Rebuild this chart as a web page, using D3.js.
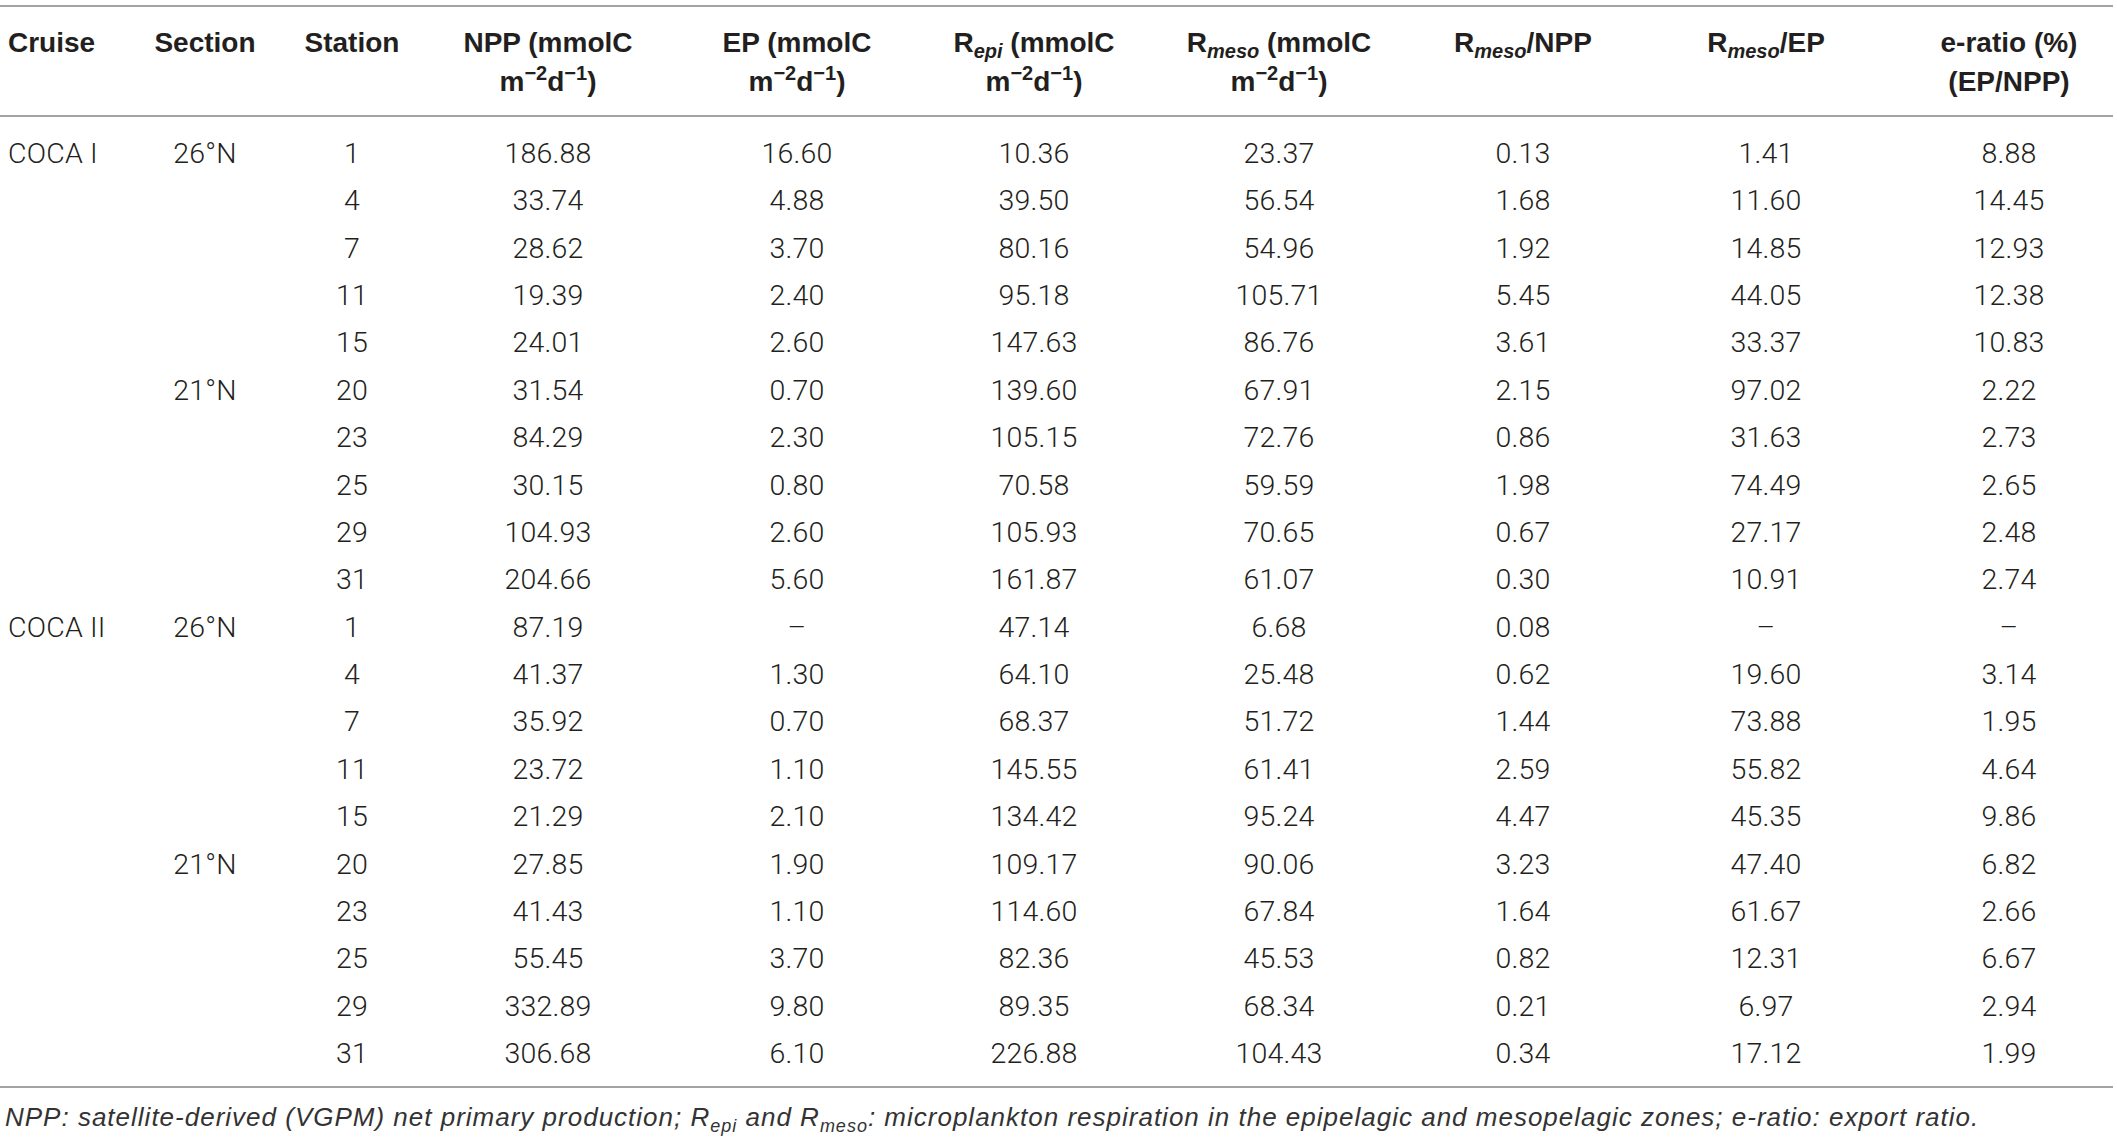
<!DOCTYPE html>
<html>
<head>
<meta charset="utf-8">
<script src="https://cdn.jsdelivr.net/npm/d3@7"></script>
<style>
  body { margin: 0; background: #fff; }
  text { font-family: Roboto, "Liberation Sans", sans-serif; fill: #231f20; }
  .header text { font-family: "Liberation Sans", Arial, sans-serif; }
  .foot { font-family: "Liberation Sans", Arial, sans-serif; }
</style>
</head>
<body>
<div id="table"></div>
<script>
// table values, row by row (null = no value, shown as a dash)
var cruises  = ["COCA I", "", "", "", "", "", "", "", "", "",
                "COCA II", "", "", "", "", "", "", "", "", ""];
var sections = ["26°N", "", "", "", "", "21°N", "", "", "", "",
                "26°N", "", "", "", "", "21°N", "", "", "", ""];
var stations = [1, 4, 7, 11, 15, 20, 23, 25, 29, 31,
                1, 4, 7, 11, 15, 20, 23, 25, 29, 31];
var npp      = [186.88, 33.74, 28.62, 19.39, 24.01, 31.54, 84.29, 30.15, 104.93, 204.66,
                87.19, 41.37, 35.92, 23.72, 21.29, 27.85, 41.43, 55.45, 332.89, 306.68];
var ep       = [16.60, 4.88, 3.70, 2.40, 2.60, 0.70, 2.30, 0.80, 2.60, 5.60,
                null, 1.30, 0.70, 1.10, 2.10, 1.90, 1.10, 3.70, 9.80, 6.10];
var rEpi     = [10.36, 39.50, 80.16, 95.18, 147.63, 139.60, 105.15, 70.58, 105.93, 161.87,
                47.14, 64.10, 68.37, 145.55, 134.42, 109.17, 114.60, 82.36, 89.35, 226.88];
var rMeso    = [23.37, 56.54, 54.96, 105.71, 86.76, 67.91, 72.76, 59.59, 70.65, 61.07,
                6.68, 25.48, 51.72, 61.41, 95.24, 90.06, 67.84, 45.53, 68.34, 104.43];
var rMesoNpp = [0.13, 1.68, 1.92, 5.45, 3.61, 2.15, 0.86, 1.98, 0.67, 0.30,
                0.08, 0.62, 1.44, 2.59, 4.47, 3.23, 1.64, 0.82, 0.21, 0.34];
var rMesoEp  = [1.41, 11.60, 14.85, 44.05, 33.37, 97.02, 31.63, 74.49, 27.17, 10.91,
                null, 19.60, 73.88, 55.82, 45.35, 47.40, 61.67, 12.31, 6.97, 17.12];
var eRatio   = [8.88, 14.45, 12.93, 12.38, 10.83, 2.22, 2.73, 2.65, 2.48, 2.74,
                null, 3.14, 1.95, 4.64, 9.86, 6.82, 2.66, 6.67, 2.94, 1.99];

// header labels: "|" breaks a line, _{..} subscript, ^{..} superscript
var headers = ["Cruise", "Section", "Station",
               "NPP (mmolC|m^{−2}d^{−1})", "EP (mmolC|m^{−2}d^{−1})",
               "R_{epi} (mmolC|m^{−2}d^{−1})", "R_{meso} (mmolC|m^{−2}d^{−1})",
               "R_{meso}/NPP", "R_{meso}/EP", "e-ratio (%)|(EP/NPP)"];
var footnote = "NPP: satellite-derived (VGPM) net primary production; R_{epi} and R_{meso}: microplankton respiration in the epipelagic and mesopelagic zones; e-ratio: export ratio.";

var width = 2117, height = 1140;
var fmt = d3.format(".2f");
function cell(v) { return v == null ? "–" : fmt(v); }

var columns = [
    { values: cruises,  x: 8,    anchor: "start" },
    { values: sections, x: 205 },
    { values: stations, x: 352 },
    { values: npp.map(cell),      x: 548 },
    { values: ep.map(cell),       x: 797 },
    { values: rEpi.map(cell),     x: 1034 },
    { values: rMeso.map(cell),    x: 1279 },
    { values: rMesoNpp.map(cell), x: 1523 },
    { values: rMesoEp.map(cell),  x: 1766 },
    { values: eRatio.map(cell),   x: 2009 }
];

var y = d3.scalePoint()
    .domain(d3.range(stations.length))
    .range([153, 1053]);

var svg = d3.select("#table")
    .append("svg")
    .attr("width", width)
    .attr("height", height);

// rules
svg.selectAll("line.rule")
    .data([6, 116, 1087])
    .enter().append("line")
    .attr("class", "rule")
    .attr("x1", 0)
    .attr("x2", 2113)
    .attr("y1", function(d) { return d; })
    .attr("y2", function(d) { return d; })
    .attr("stroke", "#a3a3a3")
    .attr("stroke-width", 2);

// writes a label with sub/superscripts into a text element;
// the shift of a sub/sup is undone on the tspan that follows it
function richText(sel, str, size, italicSub) {
    var parts = str.split(/(_\{[^}]*\}|\^\{[^}]*\})/).filter(function(s) { return s.length; });
    var small = Math.round(size * 0.7);
    var shift = 0;
    parts.forEach(function(p) {
        var ts = sel.append("tspan");
        var d = 0;
        if (p[0] === "_") {
            d = size * 0.22;
            ts.text(p.slice(2, -1))
                .style("font-size", small + "px")
                .style("font-style", italicSub ? "italic" : null);
        } else if (p[0] === "^") {
            d = -size * 0.38;
            ts.text(p.slice(2, -1))
                .style("font-size", small + "px");
        } else {
            ts.text(p);
        }
        if (d - shift !== 0) ts.attr("dy", d - shift);
        shift = d;
    });
}

// header
var head = svg.append("g").attr("class", "header");
headers.forEach(function(h, i) {
    h.split("|").forEach(function(line, k) {
        var t = head.append("text")
            .attr("x", columns[i].x)
            .attr("y", 52 + k * 39)
            .attr("text-anchor", columns[i].anchor || "middle")
            .style("font-size", "28px")
            .style("font-weight", 700);
        richText(t, line, 28, true);
    });
});

// body (blank cells of the grouped columns are skipped)
var body = svg.append("g").attr("class", "body");
columns.forEach(function(col) {
    body.append("g").selectAll("text")
        .data(col.values)
        .enter().append("text")
        .attr("x", col.x)
        .attr("y", function(d, i) { return y(i) + 10; })
        .attr("text-anchor", col.anchor || "middle")
        .style("font-size", "28.5px")
        .style("font-weight", 300)
        .style("letter-spacing", "0.2px")
        .text(function(d) { return d; })
        .filter(function(d) { return d === ""; })
        .remove();
});

// footnote
var foot = svg.append("text")
    .attr("class", "foot")
    .attr("x", 5)
    .attr("y", 1126)
    .style("font-size", "26px")
    .style("font-style", "italic")
    .style("letter-spacing", "1px")
    .style("fill", "#333");
richText(foot, footnote, 26, false);
</script>
</body>
</html>
